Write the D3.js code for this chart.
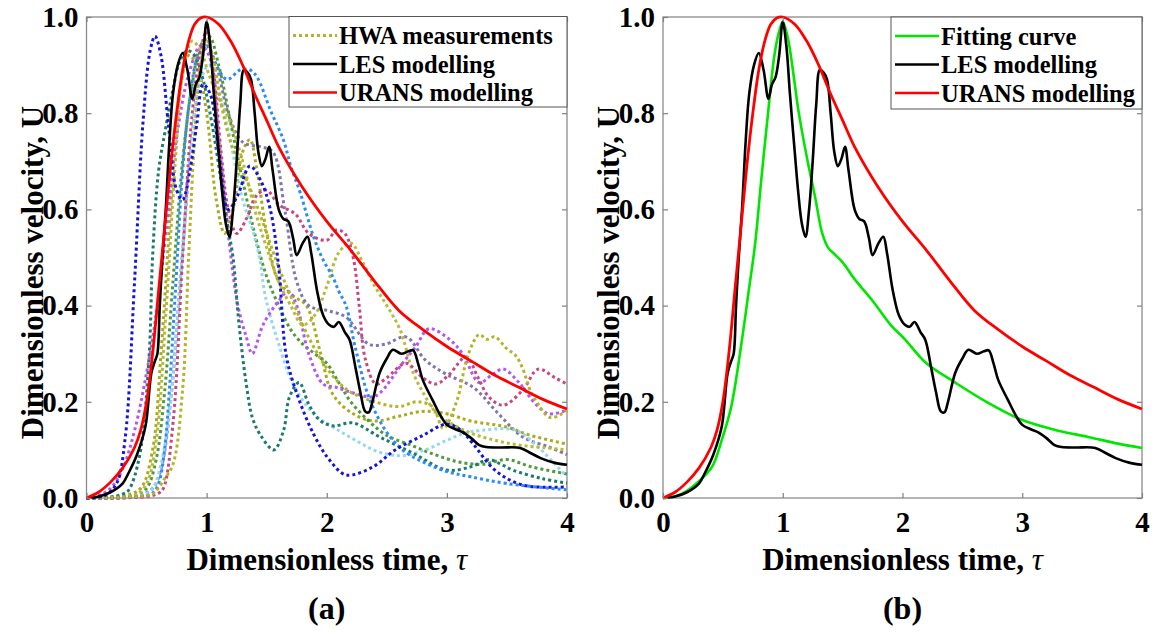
<!DOCTYPE html>
<html>
<head>
<meta charset="utf-8">
<script src="https://cdn.jsdelivr.net/npm/d3@7"></script>
<style>
  body { margin: 0; background: #fff; }
  svg text { font-family: "Liberation Serif", "Times New Roman", serif; font-weight: bold; fill: #000; }
  .axis path { display: none; }
  .axis line { stroke: #808080; stroke-width: 1.2; }
</style>
</head>
<body>
<div id="chart"></div>
<script>
/* DATA (tau, U) */
const xTicks = [0, 1, 2, 3, 4];
const yTicks = [0, 0.2, 0.4, 0.6, 0.8, 1.0];

// LES modelling (same curve in both panels)
const les = [[0,0],[0.1,0.003],[0.2,0.012],[0.3,0.03],[0.35,0.052],[0.42,0.09],[0.49,0.148],[0.54,0.26],[0.57,0.285],[0.59,0.3],[0.61,0.4],[0.63,0.49],[0.66,0.6],[0.69,0.74],[0.72,0.84],[0.76,0.9],[0.8,0.925],[0.84,0.89],[0.88,0.83],[0.91,0.86],[0.94,0.875],[0.97,0.92],[1.0,0.99],[1.03,0.94],[1.06,0.84],[1.1,0.72],[1.13,0.634],[1.16,0.57],[1.19,0.543],[1.22,0.6],[1.25,0.7],[1.28,0.82],[1.31,0.89],[1.34,0.885],[1.37,0.87],[1.4,0.8],[1.43,0.72],[1.46,0.69],[1.49,0.705],[1.52,0.73],[1.55,0.68],[1.6,0.6],[1.64,0.58],[1.68,0.575],[1.72,0.54],[1.75,0.505],[1.8,0.53],[1.84,0.543],[1.87,0.51],[1.92,0.43],[1.97,0.38],[2.02,0.36],[2.06,0.356],[2.1,0.366],[2.15,0.345],[2.19,0.329],[2.24,0.27],[2.28,0.22],[2.32,0.18],[2.35,0.178],[2.38,0.2],[2.44,0.26],[2.5,0.29],[2.55,0.308],[2.62,0.3],[2.68,0.305],[2.72,0.307],[2.76,0.28],[2.8,0.245],[2.88,0.204],[2.95,0.17],[3.0,0.152],[3.07,0.143],[3.13,0.137],[3.2,0.125],[3.27,0.11],[3.33,0.106],[3.45,0.105],[3.61,0.104],[3.7,0.093],[3.78,0.083],[3.9,0.073],[4,0.069]];

// URANS modelling
const urans = [[0,0],[0.1,0.012],[0.2,0.033],[0.3,0.062],[0.4,0.105],[0.45,0.14],[0.5,0.2],[0.55,0.3],[0.6,0.43],[0.65,0.56],[0.7,0.69],[0.75,0.8],[0.8,0.89],[0.85,0.95],[0.9,0.985],[0.95,0.998],[1.0,1.0],[1.1,0.985],[1.2,0.95],[1.3,0.9],[1.4,0.84],[1.5,0.785],[1.6,0.73],[1.8,0.645],[2.0,0.575],[2.2,0.515],[2.4,0.45],[2.6,0.39],[2.8,0.35],[3.0,0.315],[3.2,0.285],[3.4,0.255],[3.6,0.23],[3.8,0.205],[4,0.185]];

// Fitting curve (panel b)
const fit = [[0,0],[0.1,0.003],[0.2,0.015],[0.3,0.035],[0.41,0.065],[0.49,0.12],[0.57,0.19],[0.66,0.33],[0.71,0.42],[0.77,0.53],[0.82,0.66],[0.88,0.807],[0.93,0.92],[0.97,0.97],[1.0,0.99],[1.04,0.96],[1.09,0.88],[1.13,0.807],[1.2,0.71],[1.27,0.626],[1.33,0.55],[1.38,0.52],[1.44,0.505],[1.5,0.49],[1.6,0.455],[1.75,0.41],[1.9,0.36],[2.02,0.33],[2.2,0.28],[2.44,0.24],[2.7,0.2],[3.0,0.162],[3.3,0.14],[3.55,0.127],[3.8,0.113],[4,0.104]];

// HWA measurements (panel a), one run per colour
const hwaBlue = [[0,0],[0.15,0.005],[0.25,0.03],[0.32,0.12],[0.4,0.45],[0.47,0.78],[0.53,0.93],[0.57,0.96],[0.62,0.92],[0.68,0.78],[0.75,0.64],[0.8,0.62],[0.86,0.68],[0.92,0.78],[0.97,0.86],[1.03,0.84],[1.1,0.72],[1.18,0.6],[1.26,0.63],[1.36,0.69],[1.45,0.66],[1.53,0.6],[1.6,0.48],[1.66,0.3],[1.74,0.225],[1.89,0.133],[2.02,0.08],[2.16,0.048],[2.38,0.064],[2.57,0.1],[2.8,0.13],[3.0,0.154],[3.12,0.14],[3.22,0.112],[3.4,0.058],[3.63,0.027],[4,0.023]];
const hwaTeal = [[0,0],[0.2,0.002],[0.3,0.008],[0.35,0.016],[0.44,0.085],[0.52,0.29],[0.55,0.5],[0.6,0.68],[0.66,0.77],[0.72,0.85],[0.78,0.91],[0.84,0.93],[0.9,0.92],[0.97,0.87],[1.05,0.77],[1.12,0.66],[1.18,0.56],[1.22,0.5],[1.27,0.36],[1.33,0.237],[1.38,0.168],[1.45,0.13],[1.56,0.1],[1.64,0.14],[1.69,0.21],[1.77,0.24],[1.85,0.195],[1.94,0.162],[2.05,0.15],[2.22,0.156],[2.44,0.127],[2.72,0.093],[3.0,0.058],[3.2,0.065],[3.35,0.08],[3.45,0.07],[3.55,0.058],[3.8,0.04],[4,0.031]];
const hwaGreen = [[0,0],[0.4,0.005],[0.5,0.02],[0.58,0.08],[0.65,0.22],[0.72,0.45],[0.8,0.7],[0.88,0.86],[0.95,0.94],[1.02,0.96],[1.1,0.9],[1.2,0.78],[1.3,0.66],[1.4,0.55],[1.5,0.46],[1.6,0.4],[1.7,0.35],[1.8,0.32],[1.9,0.3],[2.0,0.28],[2.1,0.24],[2.2,0.2],[2.35,0.16],[2.5,0.13],[2.7,0.11],[2.9,0.09],[3.1,0.075],[3.3,0.07],[3.5,0.08],[3.7,0.065],[4,0.05]];
const hwaAzure = [[0,0],[0.45,0.003],[0.55,0.01],[0.6,0.03],[0.65,0.1],[0.69,0.225],[0.74,0.43],[0.8,0.68],[0.86,0.83],[0.93,0.92],[1.0,0.94],[1.08,0.9],[1.17,0.87],[1.28,0.89],[1.36,0.89],[1.42,0.875],[1.53,0.807],[1.64,0.744],[1.7,0.69],[1.78,0.634],[1.89,0.543],[1.97,0.495],[2.05,0.46],[2.1,0.43],[2.16,0.4],[2.24,0.31],[2.35,0.21],[2.49,0.14],[2.63,0.1],[2.8,0.075],[3.0,0.055],[3.2,0.044],[3.5,0.03],[4,0.017]];
const hwaCyan = [[0,0],[0.45,0.005],[0.55,0.02],[0.62,0.07],[0.7,0.2],[0.78,0.45],[0.86,0.7],[0.94,0.86],[1.02,0.9],[1.1,0.85],[1.2,0.74],[1.3,0.62],[1.38,0.56],[1.44,0.5],[1.49,0.418],[1.6,0.32],[1.72,0.237],[1.89,0.175],[2.05,0.148],[2.24,0.12],[2.43,0.096],[2.63,0.088],[2.82,0.1],[3.0,0.12],[3.15,0.135],[3.3,0.141],[3.57,0.141],[3.76,0.106],[3.9,0.07],[4,0.044]];
const hwaPink = [[0,0],[0.5,0.003],[0.6,0.01],[0.64,0.02],[0.72,0.155],[0.8,0.5],[0.88,0.8],[0.95,0.93],[1.0,0.97],[1.06,0.88],[1.12,0.72],[1.18,0.6],[1.25,0.55],[1.33,0.58],[1.42,0.63],[1.5,0.64],[1.6,0.61],[1.74,0.59],[1.85,0.55],[2.0,0.536],[2.08,0.557],[2.15,0.55],[2.22,0.5],[2.27,0.4],[2.32,0.29],[2.41,0.237],[2.5,0.25],[2.66,0.28],[2.8,0.25],[2.91,0.237],[3.02,0.257],[3.16,0.293],[3.26,0.25],[3.35,0.21],[3.47,0.193],[3.63,0.224],[3.76,0.268],[3.9,0.25],[4,0.237]];
const hwaPurple = [[0,0],[0.1,0.005],[0.2,0.02],[0.3,0.06],[0.4,0.14],[0.5,0.26],[0.58,0.38],[0.66,0.55],[0.75,0.75],[0.85,0.88],[0.95,0.94],[1.02,0.92],[1.1,0.75],[1.18,0.55],[1.26,0.4],[1.33,0.335],[1.38,0.3],[1.47,0.36],[1.6,0.41],[1.68,0.43],[1.75,0.4],[1.85,0.3],[1.97,0.237],[2.08,0.23],[2.2,0.22],[2.38,0.21],[2.45,0.22],[2.63,0.28],[2.74,0.314],[2.85,0.352],[3.02,0.33],[3.13,0.3],[3.27,0.24],[3.38,0.257],[3.47,0.268],[3.6,0.24],[3.74,0.195],[3.85,0.175],[4,0.183]];
const hwaGrey = [[0,0],[0.4,0.003],[0.55,0.02],[0.62,0.06],[0.7,0.2],[0.78,0.45],[0.86,0.7],[0.94,0.88],[1.0,0.94],[1.08,0.9],[1.18,0.8],[1.3,0.74],[1.45,0.73],[1.55,0.72],[1.65,0.6],[1.75,0.45],[1.85,0.4],[2.0,0.39],[2.16,0.376],[2.35,0.32],[2.49,0.32],[2.66,0.335],[2.82,0.287],[2.99,0.258],[3.22,0.23],[3.43,0.175],[3.63,0.127],[3.85,0.106],[4,0.09]];
const hwaOliveA = [[0,0],[0.5,0.005],[0.56,0.01],[0.65,0.04],[0.72,0.07],[0.8,0.225],[0.85,0.5],[0.9,0.75],[0.95,0.9],[1.0,0.95],[1.05,0.92],[1.12,0.82],[1.2,0.74],[1.3,0.68],[1.4,0.62],[1.5,0.55],[1.6,0.48],[1.7,0.42],[1.8,0.36],[1.9,0.31],[2.0,0.27],[2.1,0.24],[2.2,0.22],[2.4,0.2],[2.6,0.19],[2.75,0.2],[2.88,0.19],[2.97,0.145],[3.08,0.2],[3.18,0.3],[3.27,0.34],[3.33,0.33],[3.4,0.335],[3.5,0.31],[3.57,0.297],[3.63,0.27],[3.7,0.22],[3.76,0.195],[3.85,0.168],[3.92,0.17],[4,0.183]];
const hwaOliveB = [[0,0],[0.3,0.004],[0.45,0.02],[0.55,0.1],[0.62,0.3],[0.7,0.6],[0.78,0.85],[0.85,0.92],[0.92,0.9],[1.0,0.8],[1.08,0.62],[1.15,0.55],[1.22,0.6],[1.3,0.72],[1.36,0.745],[1.42,0.68],[1.5,0.55],[1.6,0.45],[1.72,0.42],[1.83,0.4],[1.95,0.3],[2.05,0.216],[2.22,0.175],[2.4,0.16],[2.6,0.17],[2.8,0.18],[3.0,0.175],[3.2,0.16],[3.49,0.148],[3.7,0.13],[4,0.112]];
const hwaOliveC = [[0,0],[0.4,0.005],[0.5,0.03],[0.58,0.12],[0.66,0.38],[0.74,0.7],[0.8,0.88],[0.88,0.95],[0.95,0.93],[1.02,0.88],[1.1,0.83],[1.2,0.78],[1.3,0.7],[1.4,0.6],[1.5,0.52],[1.6,0.45],[1.7,0.4],[1.8,0.36],[1.9,0.38],[2.0,0.44],[2.1,0.51],[2.2,0.53],[2.3,0.49],[2.4,0.44],[2.5,0.4],[2.61,0.35],[2.72,0.26],[2.8,0.22],[2.9,0.18],[3.0,0.16],[3.2,0.135],[3.4,0.12],[3.6,0.11],[3.8,0.105],[4,0.1]];

const hwaSeries = [
  { name: "oliveB", color: "#aaaa1c", pts: hwaOliveB },
  { name: "grey", color: "#7f76b0", pts: hwaGrey },
  { name: "green", color: "#4f9a3a", pts: hwaGreen },
  { name: "cyan", color: "#94d7ef", pts: hwaCyan },
  { name: "purple", color: "#b357ef", pts: hwaPurple },
  { name: "oliveC", color: "#b9b93a", pts: hwaOliveC },
  { name: "teal", color: "#1c7a6c", pts: hwaTeal },
  { name: "azure", color: "#2a8cf4", pts: hwaAzure },
  { name: "pink", color: "#c9467e", pts: hwaPink },
  { name: "oliveA", color: "#b4b42a", pts: hwaOliveA },
  { name: "blue", color: "#1414dc", pts: hwaBlue }
];

/* LAYOUT */
const W = 1153, H = 633;
const plotTop = 17, plotBottom = 498;
const panels = [
  { id: "a", x0: 86.5, x1: 567, label: "(a)" },
  { id: "b", x0: 663, x1: 1142, label: "(b)" }
];

const svg = d3.select("#chart").append("svg")
  .attr("width", W)
  .attr("height", H);

const yScale = d3.scaleLinear().domain([0, 1]).range([plotBottom, plotTop]);
const line = (x) => d3.line()
  .x(d => x(d[0]))
  .y(d => yScale(d[1]))
  .curve(d3.curveCatmullRom.alpha(0.5));

function drawFrame(g, x) {
  // inward ticks on all four sides
  g.append("g").attr("class", "axis")
    .attr("transform", `translate(0,${plotBottom})`)
    .call(d3.axisBottom(x).tickValues(xTicks).tickSize(-5).tickPadding(13).tickFormat(d3.format("d")))
    .selectAll("text").attr("font-size", 29).attr("dy", "0.71em");
  g.append("g").attr("class", "axis")
    .attr("transform", `translate(0,${plotTop})`)
    .call(d3.axisTop(x).tickValues(xTicks).tickSize(-5).tickFormat(""));
  g.append("g").attr("class", "axis")
    .attr("transform", `translate(${x.range()[0]},0)`)
    .call(d3.axisLeft(yScale).tickValues(yTicks).tickSize(-5).tickPadding(8).tickFormat(d3.format(".1f")))
    .selectAll("text").attr("font-size", 29);
  g.append("g").attr("class", "axis")
    .attr("transform", `translate(${x.range()[1]},0)`)
    .call(d3.axisRight(yScale).tickValues(yTicks).tickSize(-5).tickFormat(""));
  g.selectAll(".axis text").attr("fill", "#000");
}

function drawBox(g, x) {
  g.append("rect")
    .attr("x", x.range()[0]).attr("y", plotTop)
    .attr("width", x.range()[1] - x.range()[0]).attr("height", plotBottom - plotTop)
    .attr("fill", "none").attr("stroke", "#8a8a8a").attr("stroke-width", 1.3);
}

function drawLegend(g, box, items) {
  const lg = g.append("g");
  lg.append("rect")
    .attr("x", box.x).attr("y", box.y).attr("width", box.w).attr("height", box.h)
    .attr("fill", "#fff").attr("stroke", "#555").attr("stroke-width", 1);
  items.forEach((it, i) => {
    const yy = box.y + 19 + i * 28.5;
    lg.append("line")
      .attr("x1", box.x + 4).attr("x2", box.x + 48)
      .attr("y1", yy).attr("y2", yy)
      .attr("stroke", it.color).attr("stroke-width", it.dash ? 3 : 2.6)
      .attr("stroke-dasharray", it.dash ? "3 3" : null);
    lg.append("text")
      .attr("x", box.x + 50).attr("y", yy + 8.5)
      .attr("font-size", 24.5)
      .text(it.text);
  });
}

function axisLabels(g, x) {
  const cx = (x.range()[0] + x.range()[1]) / 2;
  const t = g.append("text")
    .attr("x", cx).attr("y", 570)
    .attr("text-anchor", "middle")
    .attr("font-size", 31);
  t.append("tspan").text("Dimensionless time, ");
  t.append("tspan").attr("font-style", "italic").attr("font-weight", "normal").text("τ");
  g.append("text")
    .attr("transform", `translate(${x.range()[0] - 44},${(plotTop + plotBottom) / 2 + 15}) rotate(-90)`)
    .attr("text-anchor", "middle")
    .attr("font-size", 31)
    .text("Dimensionless velocity, U");
}

/* PANEL (a) */
{
  const p = panels[0];
  const x = d3.scaleLinear().domain([0, 4]).range([p.x0, p.x1]);
  const g = svg.append("g");
  drawBox(g, x);
  g.selectAll("path.hwa")
    .data(hwaSeries)
    .join("path")
    .attr("class", "hwa")
    .attr("d", d => line(x)(d.pts))
    .attr("fill", "none")
    .attr("stroke", d => d.color)
    .attr("stroke-width", 3)
    .attr("stroke-dasharray", "3 3");
  g.append("path").attr("d", line(x)(les)).attr("fill", "none").attr("stroke", "#000").attr("stroke-width", 2.6);
  g.append("path").attr("d", line(x)(urans)).attr("fill", "none").attr("stroke", "#f00").attr("stroke-width", 2.8);
  drawFrame(g, x);
  drawLegend(g, { x: 289, y: 16.5, w: 278, h: 90.5 }, [
    { text: "HWA measurements", color: "#b4b42a", dash: true },
    { text: "LES modelling", color: "#000" },
    { text: "URANS modelling", color: "#f00" }
  ]);
  axisLabels(g, x);
  g.append("text").attr("x", (p.x0 + p.x1) / 2).attr("y", 619)
    .attr("text-anchor", "middle").attr("font-size", 32).text(p.label);
}

/* PANEL (b) */
{
  const p = panels[1];
  const x = d3.scaleLinear().domain([0, 4]).range([p.x0, p.x1]);
  const g = svg.append("g");
  drawBox(g, x);
  g.append("path").attr("d", line(x)(fit)).attr("fill", "none").attr("stroke", "#00e600").attr("stroke-width", 2.6);
  g.append("path").attr("d", line(x)(les)).attr("fill", "none").attr("stroke", "#000").attr("stroke-width", 2.6);
  g.append("path").attr("d", line(x)(urans)).attr("fill", "none").attr("stroke", "#f00").attr("stroke-width", 2.8);
  drawFrame(g, x);
  drawLegend(g, { x: 891, y: 17, w: 251, h: 92 }, [
    { text: "Fitting curve", color: "#00e600" },
    { text: "LES modelling", color: "#000" },
    { text: "URANS modelling", color: "#f00" }
  ]);
  axisLabels(g, x);
  g.append("text").attr("x", (p.x0 + p.x1) / 2).attr("y", 619)
    .attr("text-anchor", "middle").attr("font-size", 32).text(p.label);
}
</script>
</body>
</html>
